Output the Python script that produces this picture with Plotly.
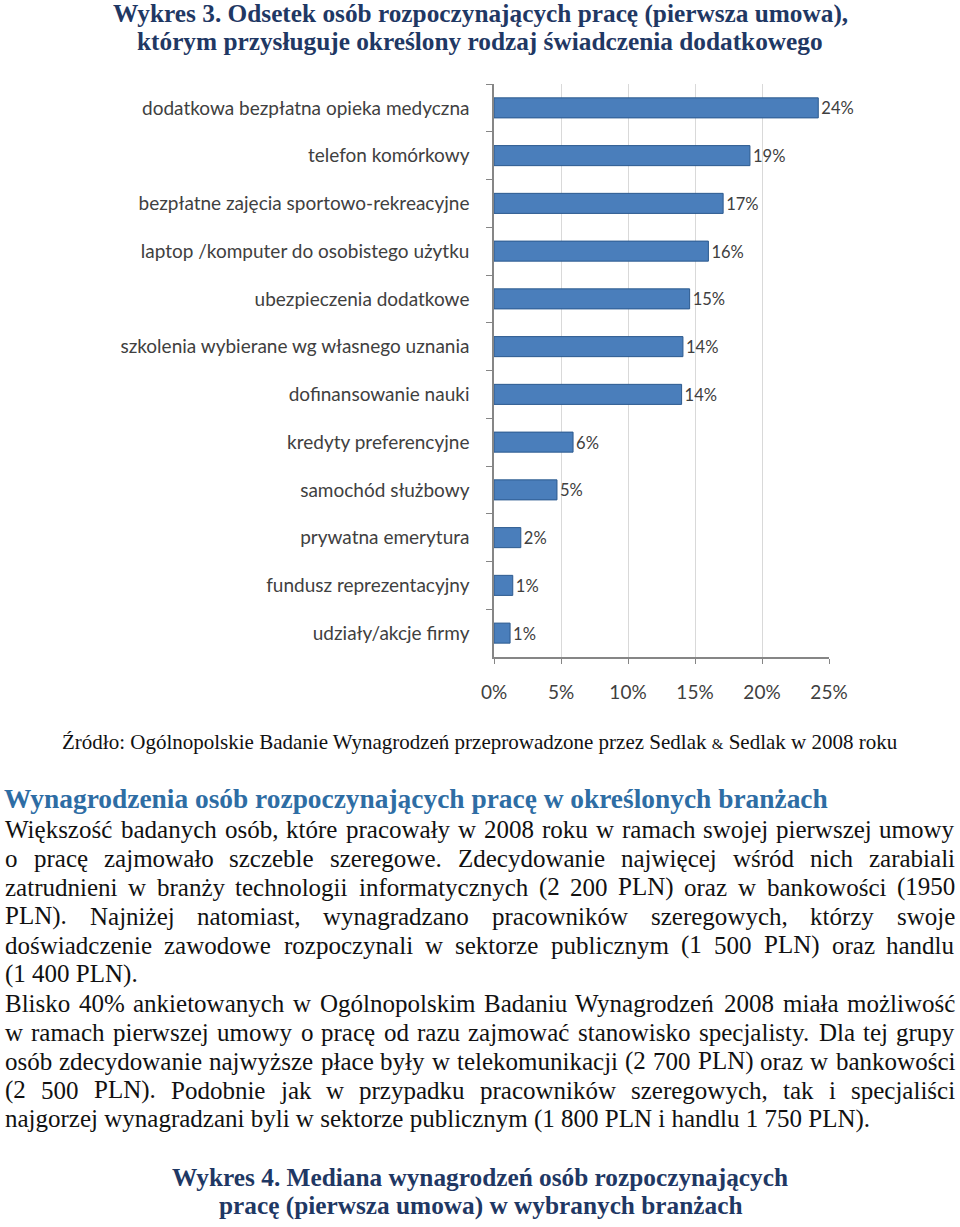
import plotly.graph_objects as go

categories = [
    "dodatkowa bezpłatna opieka medyczna",
    "telefon komórkowy",
    "bezpłatne zajęcia sportowo-rekreacyjne",
    "laptop /komputer do osobistego użytku",
    "ubezpieczenia dodatkowe",
    "szkolenia wybierane wg własnego uznania",
    "dofinansowanie nauki",
    "kredyty preferencyjne",
    "samochód służbowy",
    "prywatna emerytura",
    "fundusz reprezentacyjny",
    "udziały/akcje firmy",
]
values = [24.2, 19.1, 17.1, 16.0, 14.6, 14.1, 14.0, 5.9, 4.7, 2.0, 1.4, 1.2]
value_labels = ["24%", "19%", "17%", "16%", "15%", "14%", "14%", "6%", "5%", "2%", "1%", "1%"]
x_ticks = [0, 5, 10, 15, 20, 25]
x_tick_labels = ["0%", "5%", "10%", "15%", "20%", "25%"]

title_lines = [
    "Wykres 3. Odsetek osób rozpoczynających pracę (pierwsza umowa),",
    "którym przysługuje określony rodzaj świadczenia dodatkowego",
]
source_text = "Źródło: Ogólnopolskie Badanie Wynagrodzeń przeprowadzone przez Sedlak <span style='font-size:15px'>&amp;</span> Sedlak w 2008 roku"
heading_text = "Wynagrodzenia osób rozpoczynających pracę w określonych branżach"
paragraph_lines = [
    ("Większość badanych osób, które pracowały w 2008 roku w ramach swojej pierwszej umowy", True),
    ("o pracę zajmowało szczeble szeregowe. Zdecydowanie najwięcej wśród nich zarabiali", True),
    ("zatrudnieni w branży technologii informatycznych (2 200 PLN) oraz w bankowości (1950", True),
    ("PLN). Najniżej natomiast, wynagradzano pracowników szeregowych, którzy swoje", True),
    ("doświadczenie zawodowe rozpoczynali w sektorze publicznym (1 500 PLN) oraz handlu", True),
    ("(1 400 PLN).", False),
    ("Blisko 40% ankietowanych w Ogólnopolskim Badaniu Wynagrodzeń 2008 miała możliwość", True),
    ("w ramach pierwszej umowy o pracę od razu zajmować stanowisko specjalisty. Dla tej grupy", True),
    ("osób zdecydowanie najwyższe płace były w telekomunikacji (2 700 PLN) oraz w bankowości", True),
    ("(2 500 PLN). Podobnie jak w przypadku pracowników szeregowych, tak i specjaliści", True),
    ("najgorzej wynagradzani byli w sektorze publicznym (1 800 PLN i handlu 1 750 PLN).", False),
]
bottom_title_lines = [
    "Wykres 4. Mediana wynagrodzeń osób rozpoczynających",
    "pracę (pierwsza umowa) w wybranych branżach",
]

W, H = 960, 1227
L, R_EDGE = 494, 829          # px of x=0 and x=25
T, B_EDGE = 84, 657           # px of plot top / bottom
PW = R_EDGE - L
PH = B_EDGE - T


def px(x):
    return (x - L) / PW


def py(y):
    return (B_EDGE - y) / PH


# approximate Times (Liberation Serif) advance widths per 1000 em
_tw = {
    'a': 444, 'b': 500, 'c': 444, 'd': 500, 'e': 444, 'f': 333, 'g': 500, 'h': 500, 'i': 278,
    'j': 278, 'k': 500, 'l': 278, 'm': 778, 'n': 500, 'o': 500, 'p': 500, 'q': 500, 'r': 333,
    's': 389, 't': 278, 'u': 500, 'v': 500, 'w': 722, 'x': 500, 'y': 500, 'z': 444,
    'ą': 444, 'ę': 444, 'ó': 500, 'ł': 278, 'ś': 389, 'ć': 444, 'ż': 444, 'ź': 444, 'ń': 500,
    'A': 722, 'B': 667, 'C': 667, 'D': 722, 'E': 611, 'F': 556, 'G': 722, 'H': 722, 'I': 333,
    'J': 389, 'K': 722, 'L': 611, 'M': 889, 'N': 722, 'O': 722, 'P': 556, 'Q': 722, 'R': 667,
    'S': 556, 'T': 611, 'U': 722, 'V': 722, 'W': 944, 'X': 722, 'Y': 722, 'Z': 611,
    'Ś': 556, 'Ż': 611, 'Ź': 611,
    '(': 333, ')': 333, '.': 250, ',': 250, '%': 833, '-': 333, ' ': 250,
}


def tw(s, size):
    return sum(_tw.get(ch, 500) for ch in s) * size / 1000.0


SERIF = "Liberation Serif"
annotations = []


def note(text, x, y, anchor, size, color):
    annotations.append(dict(
        text=text, x=px(x), y=py(y), xref="paper", yref="paper",
        xanchor=anchor, yanchor="middle", showarrow=False,
        borderpad=0, borderwidth=0,
        font=dict(family=SERIF, size=size, color=color),
    ))


# title
for i, line in enumerate(title_lines):
    note("<b>" + line + "</b>", 480, [13, 41][i], "center", 25.3, "#1f3864")

# source
note(source_text, 480, 742, "center", 21, "#111111")

# heading
note("<b>" + heading_text + "</b>", 4, 799, "left", 27.4, "#2e6da4")

# justified paragraph
FS = 25
LEFT, RIGHT = 5, 955
for i, (line, justify) in enumerate(paragraph_lines):
    y = 829 + 29 * i
    if not justify:
        note(line, LEFT, y, "left", FS, "#111111")
        continue
    words = line.split(" ")
    widths = [tw(w_, FS) for w_ in words]
    gap = (RIGHT - LEFT - sum(widths)) / (len(words) - 1)
    x = LEFT
    for j, (w_, wd) in enumerate(zip(words, widths)):
        if j == len(words) - 1:
            note(w_, RIGHT, y, "right", FS, "#111111")
        else:
            note(w_, x, y, "left", FS, "#111111")
        x += wd + gap

# bottom title
for i, line in enumerate(bottom_title_lines):
    note("<b>" + line + "</b>", 480, [1177, 1205][i], "center", 25.3, "#1f3864")

fig = go.Figure(go.Bar(
    x=values, y=categories, orientation="h", width=0.42,
    marker=dict(color="#4a7ebb", line=dict(color="#2c5a8f", width=1)),
    text=value_labels, textposition="outside", cliponaxis=False,
    textfont=dict(family="Lato", size=19, color="#404040"),
))

fig.update_layout(
    width=W, height=H,
    margin=dict(l=L, r=W - R_EDGE, t=T, b=H - B_EDGE, pad=0),
    paper_bgcolor="white", plot_bgcolor="white",
    showlegend=False,
    annotations=annotations,
    xaxis=dict(
        range=[0, 25], tickvals=x_ticks, ticktext=x_tick_labels,
        showgrid=True, gridcolor="#d9d9d9", gridwidth=1,
        showline=True, linecolor="#868686", linewidth=1.5,
        ticks="outside", ticklen=5, tickcolor="#868686",
        ticklabelstandoff=12,
        tickfont=dict(family="Lato", size=19, color="#404040"),
        zeroline=False, fixedrange=True,
    ),
    yaxis=dict(
        autorange="reversed", showgrid=False,
        showline=True, linecolor="#868686", linewidth=1.5,
        ticks="outside", ticklen=6, tickcolor="#868686", tickson="boundaries",
        ticklabelstandoff=19,
        tickfont=dict(family="Lato", size=19, color="#404040"),
        fixedrange=True,
    ),
)

fig.write_html(
    "out.html",
    config={"displayModeBar": False},
    post_script="document.body.style.margin='0px';document.body.style.overflow='hidden';",
)
